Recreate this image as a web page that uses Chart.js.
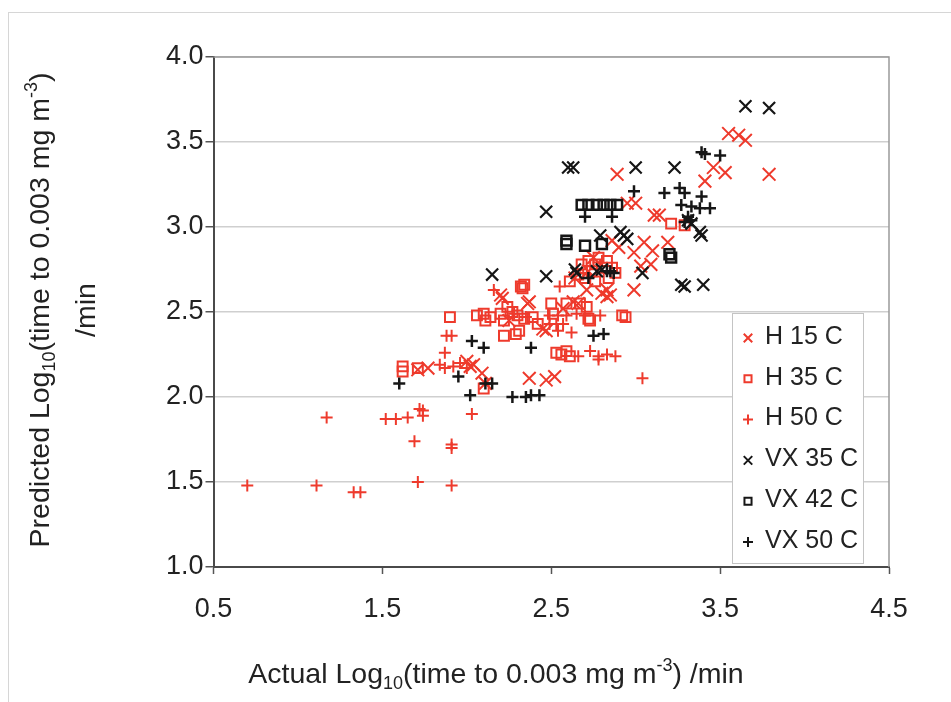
<!DOCTYPE html>
<html>
<head>
<meta charset="utf-8">
<script src="https://cdn.jsdelivr.net/npm/chart.js@4.4.0/dist/chart.umd.min.js"></script>
<style>
  html, body { margin: 0; padding: 0; background: #fff; }
  #wrap { position: relative; width: 951px; height: 702px; overflow: hidden; }
  #frame { position: absolute; left: 8px; top: 12px; width: 960px; height: 720px; border: 1px solid #d6d6d6; }
  canvas { position: absolute; left: 0; top: 0; }
</style>
</head>
<body>
<div id="wrap"><div id="frame"></div><canvas id="chart" width="951" height="702"></canvas></div>
<script>
// series names, in legend order
const seriesNames = ['H 15 C', 'H 35 C', 'H 50 C', 'VX 35 C', 'VX 42 C', 'VX 50 C'];
const xTicks = [0.5, 1.5, 2.5, 3.5, 4.5];
const yTicks = [1.0, 1.5, 2.0, 2.5, 3.0, 3.5, 4.0];

// [actual, predicted] pairs
const h15 = [[2.09,2.14],[2.11,2.08],[2.02,2.18],[1.71,2.16],[1.77,2.17],[2.00,2.21],[2.04,2.19],[2.37,2.11],
  [2.47,2.10],[2.52,2.12],[2.47,2.39],[2.45,2.40],[2.20,2.60],[2.21,2.58],[2.37,2.56],[2.36,2.55],[2.25,2.45],
  [2.63,2.56],[2.83,2.59],[2.71,2.63],[2.80,2.61],[2.83,2.63],[2.85,2.60],[2.99,2.63],[2.72,2.74],[2.86,2.92],
  [2.99,2.85],[3.03,2.77],[3.09,2.78],[3.10,2.86],[3.05,2.91],[3.19,2.91],[3.11,3.07],[3.14,3.07],[2.95,3.14],
  [3.00,3.14],[2.89,3.31],[3.41,3.27],[3.46,3.35],[3.53,3.32],[3.55,3.55],[3.61,3.54],[3.65,3.51],[3.79,3.31],
  [2.57,2.52],[2.66,2.55],[2.75,2.82],[2.90,2.88],[2.64,2.70]];
const h35 = [[1.62,2.18],[1.62,2.15],[1.71,2.17],[1.90,2.47],[2.10,2.05],[2.06,2.48],[2.10,2.49],[2.14,2.47],
  [2.11,2.45],[2.20,2.49],[2.22,2.45],[2.24,2.53],[2.27,2.50],[2.30,2.48],[2.34,2.46],[2.39,2.47],[2.42,2.43],
  [2.22,2.36],[2.29,2.37],[2.31,2.39],[2.32,2.65],[2.33,2.64],[2.34,2.66],[2.50,2.55],[2.51,2.49],[2.59,2.55],
  [2.67,2.55],[2.71,2.53],[2.72,2.46],[2.73,2.45],[2.53,2.26],[2.56,2.25],[2.59,2.27],[2.61,2.24],[2.92,2.48],
  [2.94,2.47],[2.61,2.68],[2.66,2.72],[2.70,2.70],[2.74,2.74],[2.68,2.78],[2.72,2.80],[2.76,2.78],[2.80,2.76],
  [2.78,2.82],[2.83,2.80],[2.86,2.76],[2.84,2.70],[2.88,2.73],[2.76,2.68],[3.21,3.02],[3.29,3.01]];
const h50 = [[0.70,1.48],[1.11,1.48],[1.33,1.44],[1.37,1.44],[1.71,1.50],[1.91,1.48],[1.17,1.88],[1.52,1.87],
  [1.58,1.87],[1.65,1.88],[1.72,1.93],[1.74,1.92],[1.74,1.89],[1.69,1.74],[1.91,1.72],[1.91,1.70],[2.03,1.90],
  [1.88,2.36],[1.91,2.36],[1.87,2.26],[1.84,2.19],[1.87,2.17],[1.92,2.18],[1.96,2.20],[2.00,2.17],[2.16,2.63],
  [2.49,2.48],[2.54,2.48],[2.59,2.48],[2.65,2.49],[2.70,2.48],[2.79,2.48],[2.49,2.43],[2.53,2.43],[2.57,2.43],
  [2.54,2.39],[2.62,2.38],[2.73,2.27],[2.78,2.24],[2.83,2.25],[2.88,2.24],[2.78,2.22],[2.66,2.24],[3.04,2.11],
  [2.55,2.65],[2.35,2.47],[2.28,2.49]];
const vx35 = [[2.15,2.72],[2.47,2.71],[2.47,3.09],[2.60,3.35],[2.63,3.35],[2.64,2.75],[2.65,2.73],[2.77,2.74],
  [2.80,2.75],[2.79,2.95],[2.91,2.97],[2.93,2.95],[2.95,2.93],[3.00,3.35],[3.04,2.73],[3.23,3.35],[3.27,2.66],
  [3.29,2.65],[3.40,2.66],[3.31,3.04],[3.33,3.02],[3.38,2.97],[3.39,2.95],[3.65,3.71],[3.79,3.70]];
const vx42 = [[2.59,2.92],[2.59,2.90],[2.70,2.89],[2.80,2.90],[2.68,3.13],[2.72,3.13],[2.77,3.13],[2.81,3.13],
  [2.85,3.13],[2.89,3.13],[3.20,2.84],[3.21,2.82]];
const vx50 = [[1.60,2.08],[1.95,2.12],[2.03,2.33],[2.10,2.29],[2.11,2.08],[2.15,2.08],[2.02,2.01],[2.27,2.00],
  [2.35,2.00],[2.38,2.01],[2.43,2.01],[2.38,2.29],[2.75,2.36],[2.81,2.37],[2.72,2.70],[2.85,2.74],[2.87,2.73],
  [2.83,2.74],[2.70,3.06],[2.86,3.06],[2.99,3.21],[3.17,3.20],[3.26,3.23],[3.29,3.20],[3.39,3.18],[3.39,3.44],
  [3.41,3.43],[3.50,3.42],[3.27,3.13],[3.33,3.12],[3.38,3.11],[3.44,3.11],[3.31,3.06],[3.33,3.04],[3.29,3.03]];

const RED = '#ee3a2c';
const BLACK = '#161616';
const FONT = '"Liberation Sans", Arial, sans-serif';

const styles = [
  { style: 'crossRot', color: RED,   r: 9, w: 2 },
  { style: 'rect',     color: RED,   r: 7, w: 2 },
  { style: 'cross',    color: RED,   r: 6, w: 2 },
  { style: 'crossRot', color: BLACK, r: 8.5, w: 2.2 },
  { style: 'rect',     color: BLACK, r: 7, w: 2.5 },
  { style: 'cross',    color: BLACK, r: 6, w: 2.5 }
];
const allSeries = [h15, h35, h50, vx35, vx42, vx50];

const datasets = allSeries.map((pts, i) => ({
  label: seriesNames[i],
  data: pts.map(p => ({ x: p[0], y: p[1] })),
  pointStyle: styles[i].style,
  pointRadius: styles[i].r,
  pointBorderWidth: styles[i].w,
  borderColor: styles[i].color,
  backgroundColor: 'rgba(0,0,0,0)',
  showLine: false,
  order: 6 - i
}));

function richText(ctx, parts, x0, baseline, size, align) {
  let total = 0;
  const widths = parts.map(p => {
    ctx.font = (p.s ? Math.round(size * 0.64) : size) + 'px ' + FONT;
    const w = ctx.measureText(p.t).width;
    total += w;
    return w;
  });
  let x = align === 'center' ? x0 - total / 2 : x0;
  ctx.textAlign = 'left';
  ctx.textBaseline = 'alphabetic';
  parts.forEach((p, i) => {
    ctx.font = (p.s ? Math.round(size * 0.64) : size) + 'px ' + FONT;
    const dy = p.s === 'sub' ? size * 0.2 : p.s === 'sup' ? -size * 0.42 : 0;
    ctx.fillText(p.t, x, baseline + dy);
    x += widths[i];
  });
}

const decor = {
  id: 'decor',
  beforeDatasetsDraw(chart) {
    const { ctx, chartArea: a } = chart;
    ctx.save();
    ctx.strokeStyle = '#9a9a9a';
    ctx.lineWidth = 1.5;
    ctx.beginPath();
    ctx.moveTo(a.left, a.top); ctx.lineTo(a.right, a.top); ctx.lineTo(a.right, a.bottom);
    ctx.stroke();
    ctx.restore();
  },
  afterDraw(chart) {
    const { ctx, chartArea: a } = chart;
    ctx.save();
    ctx.fillStyle = '#222';
    // x title
    richText(ctx, [{ t: 'Actual Log' }, { t: '10', s: 'sub' }, { t: '(time to 0.003 mg m' }, { t: '-3', s: 'sup' }, { t: ') /min' }],
      496, 683, 28.5, 'center');
    // y title, two lines
    const cy = (a.top + a.bottom) / 2 - 2;
    ctx.translate(49, cy);
    ctx.rotate(-Math.PI / 2);
    richText(ctx, [{ t: 'Predicted Log' }, { t: '10', s: 'sub' }, { t: '(time to 0.003 mg m' }, { t: '-3', s: 'sup' }, { t: ')' }],
      0, 0, 28.5, 'center');
    richText(ctx, [{ t: '/min' }], 0, 46, 28.5, 'center');
    ctx.restore();

    // legend box
    const lx = 732, ly = 313, lw = 131, lh = 250;
    ctx.save();
    ctx.fillStyle = '#fff';
    ctx.fillRect(lx, ly, lw, lh);
    ctx.strokeStyle = '#c4c4c4';
    ctx.lineWidth = 1;
    ctx.strokeRect(lx + 0.5, ly + 0.5, lw, lh);
    const legendR = [6, 5, 5, 6, 5, 5];
    seriesNames.forEach((name, i) => {
      const y = ly + 24 + i * 40.8;
      ctx.strokeStyle = styles[i].color;
      ctx.fillStyle = 'rgba(0,0,0,0)';
      ctx.lineWidth = 2;
      Chart.helpers.drawPoint(ctx, { pointStyle: styles[i].style, radius: legendR[i], rotation: 0, borderWidth: 2 }, lx + 16, y + 1);
      ctx.fillStyle = '#222';
      ctx.font = '25px ' + FONT;
      ctx.textAlign = 'left';
      ctx.textBaseline = 'middle';
      ctx.fillText(name, lx + 33, y);
    });
    ctx.restore();
  }
};

new Chart(document.getElementById('chart').getContext('2d'), {
  type: 'scatter',
  data: { datasets },
  options: {
    responsive: false,
    animation: false,
    events: [],
    layout: { padding: { left: 0, top: 57, right: 62, bottom: 0 } },
    plugins: { legend: { display: false }, tooltip: { enabled: false } },
    scales: {
      x: {
        type: 'linear', min: 0.5, max: 4.5,
        afterBuildTicks: s => { s.ticks = xTicks.map(v => ({ value: v })); },
        afterFit: s => { s.height = 135; },
        grid: { drawOnChartArea: false, drawTicks: true, tickLength: 7, tickColor: '#555', tickWidth: 1.5 },
        border: { color: '#4a4a4a', width: 2 },
        ticks: { color: '#222', font: { family: FONT, size: 27 }, padding: 19, maxRotation: 0,
          callback: v => v.toFixed(1) }
      },
      y: {
        type: 'linear', min: 1, max: 4,
        afterBuildTicks: s => { s.ticks = yTicks.map(v => ({ value: v })); },
        afterFit: s => { s.width = 213.5; },
        grid: { color: '#cfcfcf', lineWidth: 1.5, drawTicks: true, tickLength: 8, tickColor: '#555', tickWidth: 1.5 },
        border: { color: '#4a4a4a', width: 2 },
        ticks: { color: '#222', font: { family: FONT, size: 27 }, padding: 2,
          callback: v => v.toFixed(1) }
      }
    }
  },
  plugins: [decor]
});
</script>
</body>
</html>
